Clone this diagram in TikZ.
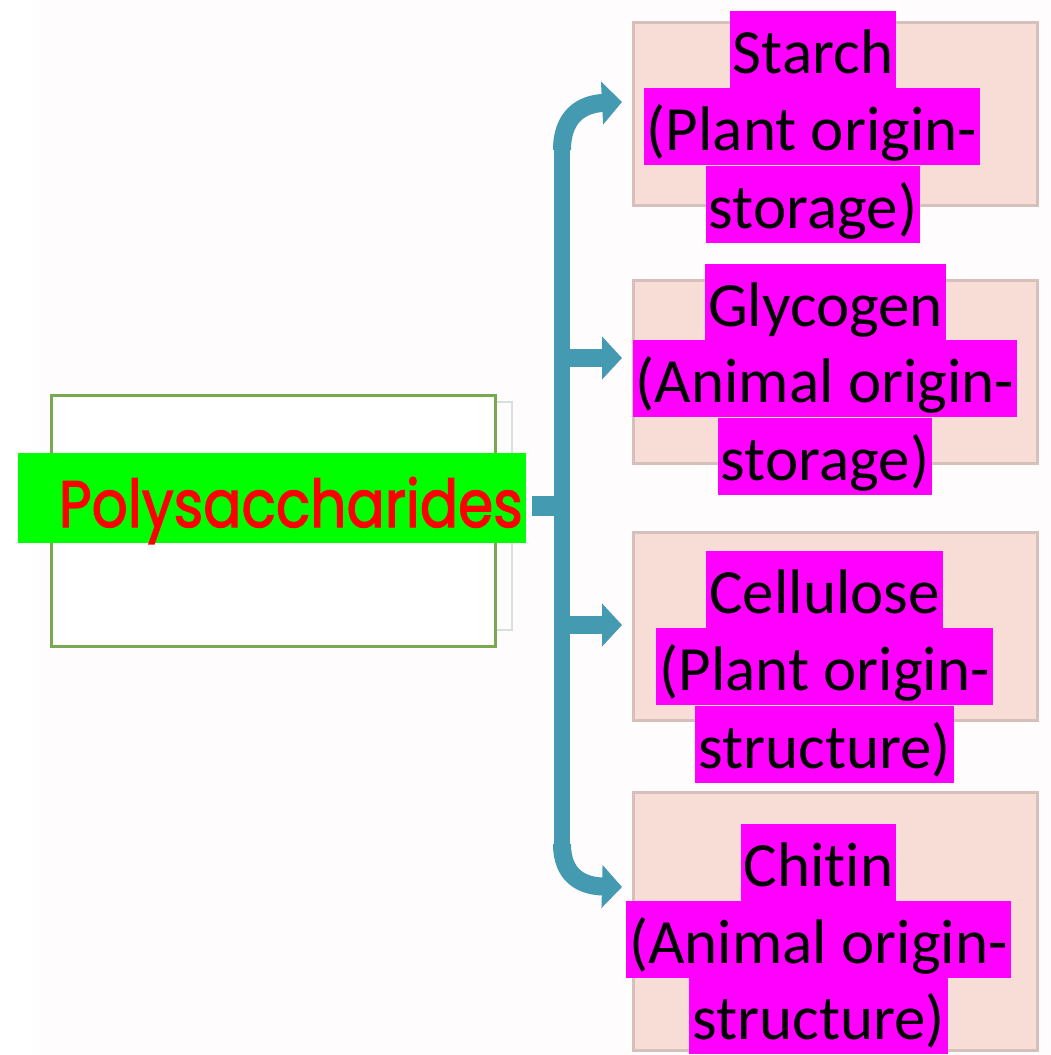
\documentclass[tikz,border=0pt]{standalone}
\usepackage{fontspec}
\usepackage{graphicx}
\usetikzlibrary{arrows.meta}
\newfontfamily\calib[RawFeature={-liga;-clig;-dlig}]{Carlito}
\newfontfamily\polyfont[FakeBold=2]{Poppins}
\definecolor{brc}{RGB}{68,154,176}
\definecolor{hlgreen}{RGB}{0,255,0}
\definecolor{hlmag}{RGB}{255,0,255}
\definecolor{boxgreen}{RGB}{122,168,80}
\definecolor{pinkfill}{RGB}{248,221,215}
\definecolor{pinkline}{RGB}{214,192,188}
\definecolor{bgtint}{RGB}{254,252,252}
\definecolor{ghost}{RGB}{214,224,220}
\tikzset{
  pinkbox/.style={draw=pinkline, line width=3pt, fill=pinkfill, inner sep=0pt},
  lbl/.style={font=\calib\fontsize{63}{77}\selectfont, fill=hlmag, text=black,
    text height=62pt, text depth=15pt, inner xsep=3pt, inner ysep=0pt, anchor=north},
  bracepath/.style={draw=brc, line width=16pt},
  bracearrow/.style={draw=brc, line width=18pt, -{Triangle[width=42pt 0, length=20pt 0]}},
}
\begin{document}
\begin{tikzpicture}[x=1pt,y=-1pt]
\useasboundingbox (0,0) rectangle (1051,1055);
\fill[white] (0,0) rectangle (1051,1055);
\fill[bgtint] (40,0) rectangle (1051,1055);

% pink boxes
\node[pinkbox, minimum width=404pt, minimum height=183pt] (box1) at (835,113.5) {};
\node[pinkbox, minimum width=404pt, minimum height=183pt] (box2) at (835,371.5) {};
\node[pinkbox, minimum width=404pt, minimum height=188pt] (box3) at (835,626) {};
\node[pinkbox, minimum width=404pt, minimum height=258pt] (box4) at (835,921) {};

% main box
\draw[ghost, line width=2pt] (495,402) -- (512,402) -- (512,630) -- (495,630);
\node[draw=boxgreen, line width=3pt, fill=white, minimum width=444pt, minimum height=251pt, inner sep=0pt] (mainbox) at (273,520.5) {};
\node[fill=hlgreen, minimum width=508pt, minimum height=90pt, inner sep=0pt] (poly) at (272,498) {};
\node[anchor=base east, inner sep=0pt, text=red] (polytxt) at (523,527)
  {\resizebox{464pt}{50pt}{\polyfont\fontsize{70}{80}\selectfont Polysaccharides}};

% brace connectors
\coordinate (j) at (562,506);
\coordinate (tA) at (622,102);
\coordinate (tB) at (622,358);
\coordinate (tC) at (622,625);
\coordinate (tD) at (622,887);
\draw[draw=brc, line width=20pt, shorten <=6pt] (poly.east |- j) -- (j);
\draw[bracepath] (562,148) -- (562,846);
\draw[bracearrow] (562,150) .. controls (562,116) and (582,104) .. (tA);
\draw[bracearrow] (562,358) -- (tB);
\draw[bracearrow] (562,844) .. controls (562,876) and (582,886) .. (tD);
\draw[bracearrow] (562,625) -- (tC);

% labels
\node[lbl] (s1) at (813,11) {Starch};
\node[lbl] (s2) at (812,88) {(Plant origin-};
\node[lbl] (s3) at (813,166) {storage)};

\node[lbl] (g1) at (825.5,264) {Glycogen};
\node[lbl] (g2) at (825,340) {(Animal origin-};
\node[lbl] (g3) at (825,418) {storage)};

\node[lbl] (c1) at (824.5,551) {Cellulose};
\node[lbl] (c2) at (824.5,628) {(Plant origin-};
\node[lbl] (c3) at (824.5,706) {structure)};

\node[lbl] (h1) at (818.5,824) {Chitin};
\node[lbl] (h2) at (818.5,901) {(Animal origin-};
\node[lbl] (h3) at (818.5,977) {structure)};
\end{tikzpicture}
\end{document}
